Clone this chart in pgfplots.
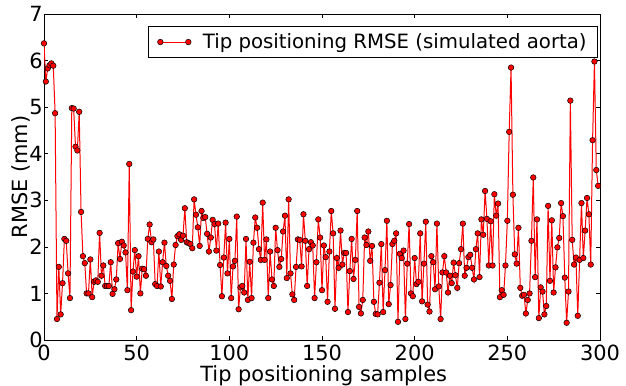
\documentclass[border=0pt]{standalone}
\usepackage{fontspec}
\setmainfont{DejaVu Sans}
\usepackage{pgfplots}
\pgfplotsset{compat=1.18}
\usepackage{pgfplotstable}
\pgfplotstableread{
x y
0 6.37
1 5.55
2 5.83
3 5.9
4 5.94
5 5.89
6 4.87
7 0.45
8 1.57
9 0.55
10 1.22
11 2.17
12 2.13
13 1.43
14 0.9
15 4.98
16 4.97
17 4.15
18 4.07
19 4.9
20 2.75
21 1.8
22 1.65
23 1.0
24 1.0
25 1.73
26 0.92
27 1.25
28 1.28
29 1.25
30 2.3
31 1.38
32 1.6
33 1.16
34 1.16
35 1.16
36 1.67
37 0.99
38 1.09
39 1.3
40 2.08
41 1.74
42 2.11
43 2.03
44 1.88
45 1.07
46 3.78
47 0.64
48 1.47
49 1.93
50 1.36
51 1.8
52 1.0
53 1.53
54 1.52
55 1.38
56 2.17
57 2.48
58 2.1
59 2.16
60 1.2
61 1.16
62 1.9
63 1.15
64 1.67
65 2.09
66 1.59
67 1.38
68 1.27
69 0.88
70 1.62
71 2.04
72 2.23
73 2.27
74 2.15
75 2.24
76 2.83
77 2.1
78 2.08
79 2.06
80 1.97
81 3.02
82 2.69
83 2.42
84 2.02
85 2.77
86 2.62
87 2.64
88 2.28
89 1.9
90 2.2
91 2.58
92 2.49
93 1.92
94 2.5
95 1.61
96 0.94
97 1.77
98 2.52
99 1.43
100 2.17
101 0.9
102 1.58
103 1.7
104 2.65
105 0.66
106 1.13
107 1.16
108 1.02
109 2.17
110 0.86
111 1.68
112 0.9
113 2.09
114 2.63
115 2.41
116 1.95
117 1.72
118 2.95
119 1.72
120 2.16
121 0.9
122 1.9
123 1.3
124 1.16
125 2.41
126 1.93
127 1.57
128 1.74
129 2.33
130 2.67
131 1.33
132 3.02
133 1.43
134 0.98
135 0.86
136 1.57
137 2.16
138 2.15
139 1.58
140 2.7
141 2.13
142 1.16
143 1.95
144 2.1
145 2.03
146 0.9
147 1.67
148 2.59
149 2.2
150 1.07
151 2.03
152 1.78
153 0.82
154 1.9
155 2.77
156 2.29
157 0.67
158 1.76
159 1.55
160 2.35
161 1.62
162 1.87
163 1.87
164 0.6
165 1.48
166 2.17
167 1.31
168 1.72
169 2.77
170 0.71
171 0.57
172 0.86
173 2.2
174 2.04
175 2.33
176 1.7
177 2.02
178 0.82
179 0.56
180 0.55
181 1.23
182 2.06
183 0.6
184 1.5
185 2.56
186 0.77
187 1.18
188 2.06
189 2.13
190 2.29
191 0.39
192 1.85
193 1.76
194 1.92
195 0.45
196 1.64
197 2.49
198 1.0
199 0.94
200 1.76
201 1.2
202 1.25
203 2.29
204 0.83
205 1.64
206 2.54
207 0.76
208 0.61
209 1.8
210 1.67
211 1.09
212 2.5
213 1.15
214 0.45
215 1.45
216 1.8
217 1.45
218 1.02
219 1.38
220 1.22
221 1.66
222 1.39
223 1.12
224 1.65
225 1.95
226 2.5
227 1.38
228 1.55
229 1.78
230 1.83
231 1.55
232 1.3
233 1.95
234 2.29
235 1.35
236 2.59
237 2.26
238 3.2
239 2.6
240 1.6
241 2.55
242 1.6
243 3.13
244 2.67
245 2.93
246 0.92
247 1.07
248 0.97
249 1.6
250 2.56
251 4.47
252 5.85
253 3.12
254 1.84
255 1.64
256 2.41
257 1.12
258 0.95
259 0.97
260 0.57
261 0.86
262 1.0
263 2.13
264 3.49
265 1.35
266 2.59
267 0.47
268 1.13
269 1.04
270 0.55
271 0.73
272 2.88
273 1.27
274 2.57
275 1.02
276 1.56
277 1.99
278 2.19
279 2.94
280 2.66
281 1.34
282 0.37
283 1.04
284 5.14
285 2.15
286 1.62
287 1.77
288 0.52
289 1.72
290 2.94
291 1.76
292 2.35
293 3.05
294 2.7
295 1.62
296 4.29
297 5.98
298 3.65
299 3.31
}\rmse

\begin{document}
\begin{tikzpicture}
\useasboundingbox (-44bp,-46bp) rectangle (582bp,340bp);
\begin{axis}[
  at={(0,0)}, anchor=south west,
  scale only axis, width=556bp, height=326bp,
  xmin=0, xmax=300, ymin=0, ymax=7,
  xtick={0,50,...,300}, ytick={0,1,...,7},
  minor tick num=0,
  tick align=inside,
  major tick length=4bp,
  axis line style={line width=0.8bp},
  tick style={black, line width=0.6bp},
  /pgf/number format/assume math mode=true,
  tick label style={font=\fontsize{21}{21}\selectfont},
  xticklabel style={inner sep=0pt, yshift=-5bp},
  yticklabel style={inner sep=0pt, xshift=-1bp},
  xlabel={Tip positioning samples},
  ylabel={RMSE (mm)},
  label style={font=\fontsize{21}{21}\selectfont},
  xlabel style={at={(axis description cs:0.503,-0.1258)}, anchor=base, inner sep=0pt},
  ylabel style={at={(axis description cs:-0.0252,0.5)}, anchor=south, inner sep=0pt},
  legend style={at={(0.9964,0.962)}, anchor=north east,
    font=\fontsize{19.8}{19.8}\selectfont, draw=black, line width=0.8bp,
    inner xsep=9bp, inner ysep=5bp},
  legend image code/.code={\path (-1bp,0bp) (40bp,0bp);\draw plot coordinates {(0bp,0bp) (28bp,0bp)};},
]
\addplot[red, line width=1bp, mark=*, mark size=2.8bp,
  mark options={fill=red, draw=black, line width=0.5bp}] table[x=x,y=y]{\rmse};
\addlegendentry{Tip positioning RMSE (simulated aorta)}
\end{axis}
\end{tikzpicture}
\end{document}
